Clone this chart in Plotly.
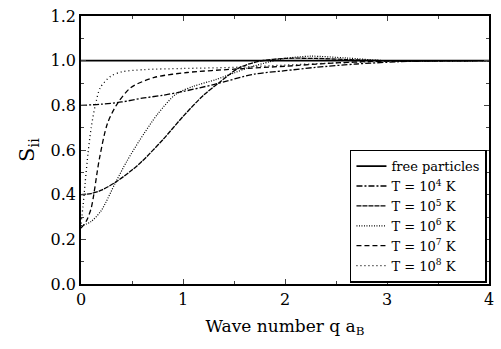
import plotly.graph_objects as go

# Data
q_free = [0.0, 4.0]
s_free = [1.0, 1.0]

q_t4 = [0.0, 0.2, 0.4, 0.6, 0.8, 1.0, 1.3, 1.7, 2.0, 2.3, 2.7, 3.1, 3.5, 4.0]
s_t4 = [0.80, 0.805, 0.815, 0.832, 0.845, 0.862, 0.893, 0.94, 0.955, 0.97, 0.985, 0.995, 1.0, 1.0]

q_t5 = [0.0, 0.1, 0.2, 0.34, 0.5, 0.6, 0.8, 1.0, 1.2, 1.35, 1.55, 1.75, 2.0, 2.3, 2.6, 3.0, 4.0]
s_t5 = [0.40, 0.405, 0.42, 0.456, 0.51, 0.55, 0.645, 0.75, 0.845, 0.90, 0.968, 0.998, 1.01, 1.01, 1.005, 1.0, 1.0]

q_t6 = [0.0, 0.1, 0.2, 0.34, 0.45, 0.57, 0.75, 0.93, 1.1, 1.32, 1.5, 1.65, 1.85, 2.0, 2.25, 2.6, 3.0, 4.0]
s_t6 = [0.26, 0.28, 0.33, 0.456, 0.55, 0.64, 0.76, 0.85, 0.885, 0.915, 0.945, 0.97, 0.995, 1.01, 1.02, 1.012, 1.0, 1.0]

q_t7 = [0.0, 0.05, 0.1, 0.18, 0.26, 0.36, 0.49, 0.72, 1.04, 1.5, 2.0, 2.5, 3.0, 4.0]
s_t7 = [0.25, 0.28, 0.34, 0.56, 0.72, 0.81, 0.88, 0.925, 0.947, 0.962, 0.975, 0.99, 0.998, 1.0]

q_t8 = [0.0, 0.02, 0.04, 0.07, 0.1, 0.14, 0.19, 0.29, 0.4, 0.62, 1.0, 1.5, 2.0, 2.5, 3.0, 4.0]
s_t8 = [0.27, 0.35, 0.45, 0.59, 0.70, 0.80, 0.88, 0.93, 0.95, 0.96, 0.965, 0.97, 0.98, 0.99, 0.997, 1.0]

x_ticks = [0, 1, 2, 3, 4]
y_ticks = [0.0, 0.2, 0.4, 0.6, 0.8, 1.0, 1.2]
y_tick_labels = ["0.0", "0.2", "0.4", "0.6", "0.8", "1.0", "1.2"]

fig = go.Figure()
series = [
    (q_free, s_free, "free particles", "solid", 1.6),
    (q_t4, s_t4, "T = 10<sup>4</sup> K", "6px,2px,2px,2px", 1.3),
    (q_t5, s_t5, "T = 10<sup>5</sup> K", "5px,1px", 1.3),
    (q_t6, s_t6, "T = 10<sup>6</sup> K", "1px,1.5px", 1.2),
    (q_t7, s_t7, "T = 10<sup>7</sup> K", "5px,3px", 1.3),
    (q_t8, s_t8, "T = 10<sup>8</sup> K", "1px,3px", 1.3),
]
for xs, ys, name, dash, w in series:
    fig.add_trace(go.Scatter(x=xs, y=ys, mode="lines", name=name,
                             line=dict(color="black", dash=dash, width=w, shape="spline", smoothing=0.8)))

font = "DejaVu Serif"
fig.update_layout(
    width=501, height=349,
    margin=dict(l=81, r=7, t=10, b=65),
    paper_bgcolor="white", plot_bgcolor="white",
    font=dict(family=font, color="black", size=15),
    showlegend=True,
    legend=dict(x=0.995, y=0.005, xanchor="right", yanchor="bottom",
                bgcolor="white", bordercolor="black", borderwidth=1.5,
                font=dict(family=font, size=13), tracegroupgap=0,
                itemwidth=30),
    xaxis=dict(range=[0, 4], tickvals=x_ticks, ticks="inside", ticklen=5,
               showline=True, linecolor="black", linewidth=1.5, mirror="allticks",
               showgrid=False, zeroline=False,
               minor=dict(dtick=0.5, ticks="inside", ticklen=3),
               tickfont=dict(size=16),
               title=dict(text="Wave number q a<sub>B</sub>", font=dict(size=17), standoff=12)),
    yaxis=dict(range=[0, 1.2], tickvals=y_ticks, ticktext=y_tick_labels, ticks="inside", ticklen=5,
               showline=True, linecolor="black", linewidth=1.5, mirror="allticks",
               showgrid=False, zeroline=False,
               minor=dict(dtick=0.1, ticks="inside", ticklen=3),
               tickfont=dict(size=16),
               title=dict(text="S<sub>ii</sub>", font=dict(size=21), standoff=10)),
)
fig.write_html("out.html")
